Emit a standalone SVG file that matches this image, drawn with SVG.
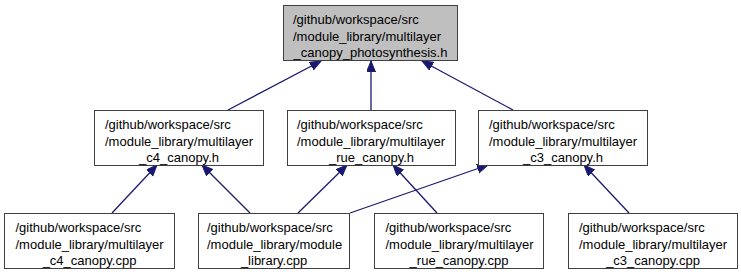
<svg xmlns="http://www.w3.org/2000/svg" width="741" height="275" viewBox="0 0 741 275">
<style>
.node rect{fill:#ffffff;stroke:#404040;stroke-width:1}
.node.root rect{fill:#bfbfbf}
.node text{font-family:"Liberation Sans",Arial,sans-serif;font-size:13px;fill:#000}
.node text.c{text-anchor:middle}
.edges line{stroke:#191970;stroke-width:1.3;marker-end:url(#arr)}
</style>
<defs>
<marker id="arr" markerUnits="userSpaceOnUse" markerWidth="12" markerHeight="10" refX="11" refY="4.5" orient="auto">
<path d="M0,0 L11,4.5 L0,9 z" fill="#191970" stroke="#191970" stroke-width="1"/>
</marker>
</defs>
<rect width="741" height="275" fill="#ffffff"/>
<g class="edges" id="edges">
<line x1="228" y1="110" x2="321" y2="61"/>
<line x1="371" y1="110" x2="371" y2="61"/>
<line x1="513" y1="110" x2="422" y2="61"/>
<line x1="112" y1="213" x2="157" y2="165"/>
<line x1="250" y1="213" x2="202" y2="165"/>
<line x1="298" y1="213" x2="347" y2="165"/>
<line x1="350" y1="213" x2="488" y2="165"/>
<line x1="437" y1="213" x2="393" y2="165"/>
<line x1="629" y1="213" x2="584" y2="165"/>
</g>
<g class="node root" id="node_root">
<rect x="283.5" y="5.5" width="174" height="55"/>
<text x="293" y="24">/github/workspace/src</text>
<text x="293" y="40.5">/module_library/multilayer</text>
<text class="c" x="370.5" y="57">_canopy_photosynthesis.h</text>
</g>
<g class="node" id="node_c4_h">
<rect x="94.5" y="110.5" width="169" height="55"/>
<text x="105" y="129">/github/workspace/src</text>
<text x="105" y="145.5">/module_library/multilayer</text>
<text class="c" x="179" y="162">_c4_canopy.h</text>
</g>
<g class="node" id="node_rue_h">
<rect x="287.5" y="110.5" width="168" height="55"/>
<text x="297" y="129">/github/workspace/src</text>
<text x="297" y="145.5">/module_library/multilayer</text>
<text class="c" x="371.5" y="162">_rue_canopy.h</text>
</g>
<g class="node" id="node_c3_h">
<rect x="478.5" y="110.5" width="169" height="55"/>
<text x="489" y="129">/github/workspace/src</text>
<text x="489" y="145.5">/module_library/multilayer</text>
<text class="c" x="563" y="162">_c3_canopy.h</text>
</g>
<g class="node" id="node_c4_cpp">
<rect x="4.5" y="213.5" width="170" height="55"/>
<text x="15.5" y="232">/github/workspace/src</text>
<text x="15.5" y="248.5">/module_library/multilayer</text>
<text class="c" x="89.5" y="265">_c4_canopy.cpp</text>
</g>
<g class="node" id="node_module_cpp">
<rect x="198.5" y="213.5" width="151" height="55"/>
<text x="207" y="232">/github/workspace/src</text>
<text x="207" y="248.5">/module_library/module</text>
<text class="c" x="274" y="265">_library.cpp</text>
</g>
<g class="node" id="node_rue_cpp">
<rect x="374.5" y="213.5" width="169" height="55"/>
<text x="385.5" y="232">/github/workspace/src</text>
<text x="385.5" y="248.5">/module_library/multilayer</text>
<text class="c" x="459" y="265">_rue_canopy.cpp</text>
</g>
<g class="node" id="node_c3_cpp">
<rect x="568.5" y="213.5" width="169" height="55"/>
<text x="579" y="232">/github/workspace/src</text>
<text x="579" y="248.5">/module_library/multilayer</text>
<text class="c" x="653" y="265">_c3_canopy.cpp</text>
</g>
</svg>
